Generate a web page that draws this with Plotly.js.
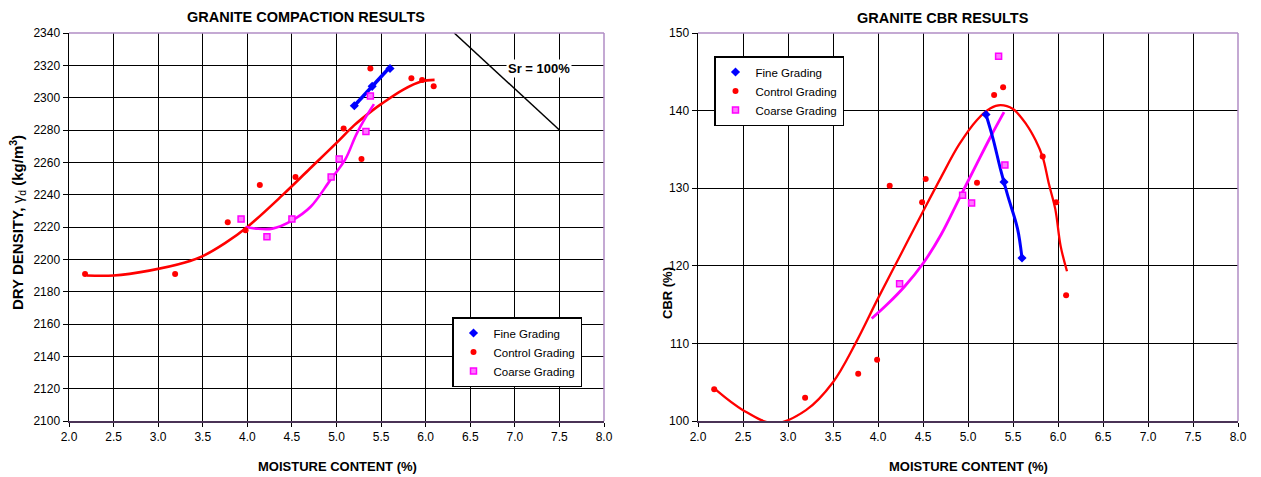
<!DOCTYPE html>
<html><head><meta charset="utf-8">
<script src="https://cdn.plot.ly/plotly-3.0.1.min.js"></script>
<style>html,body{margin:0;padding:0;background:#fff}#chart{width:1261px;height:477px}</style>
</head><body><div id="chart"></div>
<script>
// ---------- LEFT: GRANITE COMPACTION RESULTS ----------
const compFineX = [5.2, 5.4, 5.6];
const compFineY = [2295, 2307, 2318];
const compControlX = [2.18, 3.19, 3.78, 3.98, 4.14, 4.54, 5.08, 5.28, 5.38, 5.84, 5.96, 6.09];
const compControlY = [2191, 2191, 2223, 2218, 2246, 2251, 2281, 2262, 2318, 2312, 2311, 2307];
const compCoarseX = [3.93, 4.22, 4.5, 4.94, 5.03, 5.33, 5.38];
const compCoarseY = [2225, 2214, 2225, 2251, 2262, 2279, 2301];
// trend lines
const compFineTrendX = [5.2, 5.6];
const compFineTrendY = [2295, 2319];
const compControlTrendX = [2.2, 2.5, 2.9, 3.3, 3.5, 3.75, 4.0, 4.4, 4.7, 5.0, 5.2, 5.4, 5.5, 5.75, 5.95, 6.1];
const compControlTrendY = [2190, 2190, 2193, 2198, 2202, 2210, 2220, 2240, 2256, 2272, 2283, 2292, 2296, 2305, 2310, 2311];
const compCoarseTrendX = [3.98, 4.1, 4.28, 4.5, 4.71, 4.93, 5.1, 5.22, 5.34, 5.42];
const compCoarseTrendY = [2220, 2219, 2219, 2224, 2232.5, 2249, 2262, 2277, 2289, 2296];
const srLineX = [6.32, 7.5];
const srLineY = [2340, 2280];

// ---------- RIGHT: GRANITE CBR RESULTS ----------
const cbrFineX = [5.2, 5.4, 5.6];
const cbrFineY = [139.5, 130.8, 121];
const cbrControlX = [2.18, 3.19, 3.78, 3.99, 4.13, 4.49, 4.53, 5.1, 5.29, 5.39, 5.83, 5.98, 6.09];
const cbrControlY = [104.1, 103.0, 106.1, 107.9, 130.3, 128.2, 131.2, 130.7, 142.0, 143.0, 134.1, 128.2, 116.2];
const cbrCoarseX = [4.24, 4.94, 5.04, 5.34, 5.41];
const cbrCoarseY = [117.7, 129.1, 128.1, 147.0, 133.0];
const cbrFineTrendX = [5.2, 5.28, 5.36, 5.44, 5.55, 5.6];
const cbrFineTrendY = [139.5, 136.3, 132.5, 129.1, 124.8, 121];
const cbrControlTrendX = [2.2, 2.5, 2.85, 3.2, 3.5, 3.75, 4.0, 4.25, 4.5, 4.7, 4.9, 5.1, 5.25, 5.36, 5.5, 5.65, 5.75, 5.83, 5.9, 5.97, 6.03, 6.1];
const cbrControlTrendY = [104, 101.4, 99.7, 101.4, 105, 110, 115.8, 121.4, 127, 131.4, 135.6, 138.8, 140.3, 140.7, 140.2, 138.2, 136.2, 134, 130.5, 127.3, 122.5, 119.3];
const cbrCoarseTrendX = [3.93, 4.1, 4.3, 4.5, 4.7, 4.9, 5.1, 5.25, 5.4];
const cbrCoarseTrendY = [113.2, 115, 117.4, 120.3, 124, 128.6, 133.2, 136.6, 139.8];

// tick / label text
const xTickVals = [2.0, 2.5, 3.0, 3.5, 4.0, 4.5, 5.0, 5.5, 6.0, 6.5, 7.0, 7.5, 8.0];
const compYTicks = [2100, 2120, 2140, 2160, 2180, 2200, 2220, 2240, 2260, 2280, 2300, 2320, 2340];
const cbrYTicks = [100, 110, 120, 130, 140, 150];
const seriesNames = ['Fine Grading', 'Control Grading', 'Coarse Grading'];

const FONT = 'Arial, "Liberation Sans", sans-serif';
const BLUE = '#0000ff', RED = '#ff0000', MAG = '#ff00ff', FRAME = '#b08cc4';

function trend(x, y, color, width, xa, ya, shape) {
  return {x, y, xaxis: xa, yaxis: ya, mode: 'lines', showlegend: false, hoverinfo: 'skip',
    line: {color, width, shape: shape || 'spline', smoothing: 1}};
}
function pts(x, y, idx, xa, ya, leg) {
  const sty = [
    {symbol: 'diamond', size: 7, color: BLUE, line: {width: 0}},
    {symbol: 'circle', size: 6, color: RED, line: {width: 0}},
    {symbol: 'square', size: 6, color: '#ff77ff', line: {color: MAG, width: 1.5}}
  ][idx];
  return {x, y, xaxis: xa, yaxis: ya, mode: 'markers', name: seriesNames[idx], legend: leg,
    marker: sty, cliponaxis: true};
}

const data = [
  trend(compControlTrendX, compControlTrendY, RED, 2.6, 'x', 'y'),
  trend(compCoarseTrendX, compCoarseTrendY, MAG, 2.6, 'x', 'y'),
  trend(compFineTrendX, compFineTrendY, BLUE, 3.5, 'x', 'y', 'linear'),
  trend(srLineX, srLineY, '#000000', 1.5, 'x', 'y', 'linear'),
  pts(compFineX, compFineY, 0, 'x', 'y', 'legend'),
  pts(compControlX, compControlY, 1, 'x', 'y', 'legend'),
  pts(compCoarseX, compCoarseY, 2, 'x', 'y', 'legend'),

  trend(cbrControlTrendX, cbrControlTrendY, RED, 2.3, 'x2', 'y2'),
  trend(cbrCoarseTrendX, cbrCoarseTrendY, MAG, 2.8, 'x2', 'y2'),
  trend(cbrFineTrendX, cbrFineTrendY, BLUE, 3, 'x2', 'y2'),
  pts(cbrFineX, cbrFineY, 0, 'x2', 'y2', 'legend2'),
  pts(cbrControlX, cbrControlY, 1, 'x2', 'y2', 'legend2'),
  pts(cbrCoarseX, cbrCoarseY, 2, 'x2', 'y2', 'legend2')
];

const W = 1261, H = 477;
const yDom = [1 - 421 / H, 1 - 33 / H];
const baseX = {
  range: [2, 8], tickvals: xTickVals, ticktext: xTickVals.map(v => v.toFixed(1)),
  showgrid: true, gridcolor: '#000', gridwidth: 1, zeroline: false,
  showline: true, linecolor: '#4a3356', linewidth: 1.5,
  ticks: 'outside', ticklen: 4, tickcolor: '#000', tickwidth: 1,
  tickfont: {family: FONT, size: 12, color: '#000'}, fixedrange: true
};
const baseY = {
  domain: yDom, showgrid: true, gridcolor: '#000', gridwidth: 1, zeroline: false,
  showline: true, linecolor: '#000', linewidth: 1.5,
  ticks: 'outside', ticklen: 5, tickcolor: '#000', tickwidth: 1,
  tickfont: {family: FONT, size: 12, color: '#000'}, fixedrange: true
};

function frame(xr, yr) {
  return [
    {type: 'line', xref: xr + ' domain', yref: yr + ' domain', x0: 0, x1: 1, y0: 1, y1: 1, line: {color: FRAME, width: 1.5}, layer: 'above'},
    {type: 'line', xref: xr + ' domain', yref: yr + ' domain', x0: 1, x1: 1, y0: 0, y1: 1, line: {color: FRAME, width: 1.5}, layer: 'above'}
  ];
}

const legendBase = {
  xanchor: 'left', yanchor: 'top', bgcolor: '#ffffff', bordercolor: '#000', borderwidth: 1.5,
  font: {family: FONT, size: 11.5, color: '#000'}, itemwidth: 30, tracegroupgap: 0, traceorder: 'normal'
};

const layout = {
  width: W, height: H, margin: {l: 0, r: 0, t: 0, b: 0},
  paper_bgcolor: '#fff', plot_bgcolor: '#fff', showlegend: true,
  xaxis: Object.assign({}, baseX, {domain: [69 / W, 604 / W], anchor: 'y'}),
  yaxis: Object.assign({}, baseY, {range: [2100, 2340], tickvals: compYTicks, anchor: 'x'}),
  xaxis2: Object.assign({}, baseX, {domain: [698 / W, 1238 / W], anchor: 'y2'}),
  yaxis2: Object.assign({}, baseY, {range: [100, 150], tickvals: cbrYTicks, anchor: 'x2'}),
  legend: Object.assign({}, legendBase, {x: 452 / W, y: 1 - 317 / H}),
  legend2: Object.assign({}, legendBase, {x: 714 / W, y: 1 - 56 / H}),
  shapes: frame('x', 'y').concat(frame('x2', 'y2')),
  annotations: [
    {text: '<b>GRANITE COMPACTION RESULTS</b>', xref: 'paper', yref: 'paper', x: 306 / W, y: 1 - 17 / H,
      xanchor: 'center', yanchor: 'middle', showarrow: false, font: {family: FONT, size: 14.5, color: '#000'}},
    {text: '<b>GRANITE CBR RESULTS</b>', xref: 'paper', yref: 'paper', x: 943 / W, y: 1 - 18 / H,
      xanchor: 'center', yanchor: 'middle', showarrow: false, font: {family: FONT, size: 14.5, color: '#000'}},
    {text: '<b>MOISTURE CONTENT (%)</b>', xref: 'paper', yref: 'paper', x: 337 / W, y: 1 - 466 / H,
      xanchor: 'center', yanchor: 'middle', showarrow: false, font: {family: FONT, size: 13, color: '#000'}},
    {text: '<b>MOISTURE CONTENT (%)</b>', xref: 'paper', yref: 'paper', x: 968 / W, y: 1 - 466 / H,
      xanchor: 'center', yanchor: 'middle', showarrow: false, font: {family: FONT, size: 13, color: '#000'}},
    {text: '<b>DRY DENSITY, </b>γ<sub>d</sub><b> (kg/m<sup>3</sup>)</b>', xref: 'paper', yref: 'paper', x: 17 / W, y: 1 - 223 / H,
      xanchor: 'center', yanchor: 'middle', textangle: -90, showarrow: false, font: {family: FONT, size: 15, color: '#000'}},
    {text: '<b>CBR (%)</b>', xref: 'paper', yref: 'paper', x: 667 / W, y: 1 - 293 / H,
      xanchor: 'center', yanchor: 'middle', textangle: -90, showarrow: false, font: {family: FONT, size: 13, color: '#000'}},
    {text: '<b>Sr = 100%</b>', xref: 'x', yref: 'y', x: 7.27, y: 2318, xanchor: 'center', yanchor: 'middle',
      showarrow: false, bgcolor: '#ffffff', borderpad: 1, font: {family: FONT, size: 13, color: '#000'}}
  ]
};

Plotly.newPlot('chart', data, layout, {staticPlot: true, displayModeBar: false});
</script></body></html>
